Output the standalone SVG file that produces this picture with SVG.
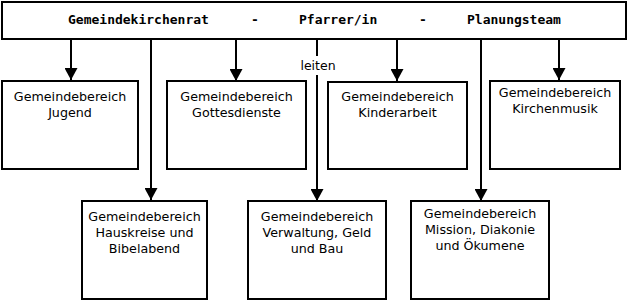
<svg xmlns="http://www.w3.org/2000/svg" width="629" height="301" viewBox="0 0 629 301">
<style>
.box{fill:#fff;stroke:#000;stroke-width:2}
.hdr{font-family:"DejaVu Sans Mono",monospace;font-weight:bold;font-size:13px;fill:#000}
.lbl{font-family:"DejaVu Sans",sans-serif;font-size:12.7px;fill:#000;text-anchor:middle}
.con{stroke:#000;stroke-width:2;fill:none}
</style>
<defs>
<marker id="ah" markerWidth="12" markerHeight="13" refX="12" refY="6.5" orient="auto" markerUnits="userSpaceOnUse">
<path d="M0,0 L12,6.5 L0,13 Z" fill="#000"/>
</marker>
</defs>
<rect width="629" height="301" fill="#fff"/>
<g id="top">
<rect class="box" x="2" y="2" width="624" height="37"/>
<text class="hdr" x="68" y="24">Gemeindekirchenrat</text>
<text class="hdr" x="251" y="24">-</text>
<text class="hdr" x="299" y="24">Pfarrer/in</text>
<text class="hdr" x="419" y="24">-</text>
<text class="hdr" x="467" y="24">Planungsteam</text>
</g>
<g id="connectors">
<line class="con" x1="71" y1="40" x2="71" y2="80" marker-end="url(#ah)"/>
<line class="con" x1="151" y1="40" x2="151" y2="200" marker-end="url(#ah)"/>
<line class="con" x1="236" y1="40" x2="236" y2="81" marker-end="url(#ah)"/>
<line class="con" x1="317" y1="40" x2="317" y2="201" marker-end="url(#ah)"/>
<line class="con" x1="397" y1="40" x2="397" y2="81" marker-end="url(#ah)"/>
<line class="con" x1="481" y1="40" x2="481" y2="201" marker-end="url(#ah)"/>
<line class="con" x1="559" y1="40" x2="559" y2="80" marker-end="url(#ah)"/>
<rect x="299" y="56" width="37" height="19" fill="#fff"/>
<text x="318" y="70" font-family="DejaVu Sans, sans-serif" font-size="12.5px" text-anchor="middle">leiten</text>
</g>
<g id="jugend">
<rect class="box" x="2" y="81" width="136" height="88"/>
<text class="lbl" x="70" y="101">Gemeindebereich</text>
<text class="lbl" x="70" y="117">Jugend</text>
</g>
<g id="gottesdienste">
<rect class="box" x="167" y="81" width="139" height="88"/>
<text class="lbl" x="236.5" y="101">Gemeindebereich</text>
<text class="lbl" x="236.5" y="117">Gottesdienste</text>
</g>
<g id="kinderarbeit">
<rect class="box" x="328" y="82" width="139" height="87"/>
<text class="lbl" x="397.5" y="101">Gemeindebereich</text>
<text class="lbl" x="397.5" y="117">Kinderarbeit</text>
</g>
<g id="kirchenmusik">
<rect class="box" x="490" y="81" width="130" height="88"/>
<text class="lbl" x="555" y="97">Gemeindebereich</text>
<text class="lbl" x="555" y="113">Kirchenmusik</text>
</g>
<g id="hauskreise">
<rect class="box" x="82" y="201" width="125" height="98"/>
<text class="lbl" x="144.5" y="221">Gemeindebereich</text>
<text class="lbl" x="144.5" y="237">Hauskreise und</text>
<text class="lbl" x="144.5" y="253">Bibelabend</text>
</g>
<g id="verwaltung">
<rect class="box" x="248" y="201" width="138" height="98"/>
<text class="lbl" x="317" y="221">Gemeindebereich</text>
<text class="lbl" x="317" y="237">Verwaltung, Geld</text>
<text class="lbl" x="317" y="253">und Bau</text>
</g>
<g id="mission">
<rect class="box" x="411" y="201" width="138" height="98"/>
<text class="lbl" x="480" y="218">Gemeindebereich</text>
<text class="lbl" x="480" y="234">Mission, Diakonie</text>
<text class="lbl" x="480" y="250">und Ökumene</text>
</g>
</svg>
